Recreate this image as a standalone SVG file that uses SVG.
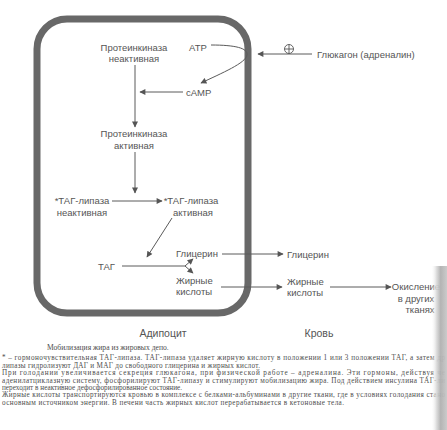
<svg xmlns="http://www.w3.org/2000/svg" width="447" height="430" viewBox="0 0 447 430">
<defs>
<style>
.lbl{font-family:"Liberation Sans",Arial,sans-serif;font-size:9.5px;fill:#555}
.big{font-family:"Liberation Sans",Arial,sans-serif;font-size:10.5px;fill:#555}
.cap{font-family:"Liberation Serif","Times New Roman",serif;font-size:7.2px;fill:#4d4d4d}
.ln{fill:none;stroke:#5a5a5a;stroke-width:1}
.arr{fill:none;stroke:#5a5a5a;stroke-width:1;marker-end:url(#ah)}
</style>
<marker id="ah" viewBox="0 0 10 10" refX="9" refY="5" markerWidth="8" markerHeight="6" markerUnits="userSpaceOnUse" orient="auto">
<path d="M0,0 L10,5 L0,10 z" fill="#555"/>
</marker>
<linearGradient id="sh" x1="0" y1="0" x2="1" y2="0">
<stop offset="0" stop-color="#ffffff" stop-opacity="0"/>
<stop offset="0.35" stop-color="#d8d8d8" stop-opacity="0.9"/>
<stop offset="0.6" stop-color="#b0b0b0" stop-opacity="0.95"/>
<stop offset="1" stop-color="#c8c8c8" stop-opacity="0.95"/>
</linearGradient>
</defs>
<rect width="447" height="430" fill="#ffffff"/>

<g id="adipocyte">
<rect x="37" y="19" width="211" height="294" rx="30" ry="30" fill="none" stroke="#686868" stroke-width="7"/>
</g>

<g id="connectors">
<path class="arr" d="M211,45 C235,45 248,48 247,55 C246,63 222,73 201,83"/>
<line class="arr" x1="312" y1="54" x2="258" y2="54"/>
<circle cx="289" cy="49" r="4.5" fill="none" stroke="#555" stroke-width="0.9"/>
<line x1="284.5" y1="49" x2="293.5" y2="49" stroke="#555" stroke-width="0.9"/>
<line x1="289" y1="44.5" x2="289" y2="53.5" stroke="#555" stroke-width="0.9"/>
<line class="arr" x1="183" y1="92" x2="140" y2="92"/>
<line class="arr" x1="135" y1="65" x2="135" y2="127"/>
<line class="arr" x1="135" y1="152" x2="135" y2="193"/>
<line class="arr" x1="112" y1="201" x2="162" y2="201"/>
<line class="arr" x1="172" y1="218" x2="147" y2="257"/>
<line class="ln" x1="122" y1="266" x2="185" y2="266"/>
<line class="arr" x1="185" y1="266" x2="193" y2="259"/>
<line class="arr" x1="185" y1="266" x2="193" y2="273"/>
<line class="arr" x1="222" y1="254" x2="283" y2="254"/>
<line class="arr" x1="221" y1="287" x2="282" y2="287"/>
<line class="arr" x1="330" y1="287" x2="391" y2="287"/>
</g>

<g id="pk-inactive"><text class="lbl" x="134" y="50.5" text-anchor="middle">Протеинкиназа</text><text class="lbl" x="134" y="61.5" text-anchor="middle">неактивная</text></g>
<g id="atp"><text class="lbl" x="189" y="50.5">ATP</text></g>
<g id="glucagon"><text class="lbl" x="317" y="57.5">Глюкагон (адреналин)</text></g>
<g id="camp"><text class="lbl" x="186" y="95.5">cAMP</text></g>
<g id="pk-active"><text class="lbl" x="134" y="136.5" text-anchor="middle">Протеинкиназа</text><text class="lbl" x="134" y="149" text-anchor="middle">активная</text></g>
<g id="tag-lipase-inactive"><text class="lbl" x="82" y="203.5" text-anchor="middle">*ТАГ-липаза</text><text class="lbl" x="82" y="215.5" text-anchor="middle">неактивная</text></g>
<g id="tag-lipase-active"><text class="lbl" x="191" y="203.5" text-anchor="middle">*ТАГ-липаза</text><text class="lbl" x="193" y="215.5" text-anchor="middle">активная</text></g>
<g id="tag"><text class="lbl" x="98" y="270">ТАГ</text></g>
<g id="glycerol-in"><text class="lbl" x="176" y="256.5">Глицерин</text></g>
<g id="fa-in"><text class="lbl" x="176" y="283.5">Жирные</text><text class="lbl" x="176" y="294.5">кислоты</text></g>
<g id="glycerol-blood"><text class="lbl" x="287" y="257.5">Глицерин</text></g>
<g id="fa-blood"><text class="lbl" x="287" y="284.5">Жирные</text><text class="lbl" x="287" y="296">кислоты</text></g>
<g id="oxidation"><text class="lbl" x="416" y="290" text-anchor="middle">Окисление</text><text class="lbl" x="416" y="301.5" text-anchor="middle">в других</text><text class="lbl" x="420" y="312.5" text-anchor="middle">тканях</text></g>

<g id="labels">
<text class="big" x="163" y="337" text-anchor="middle">Адипоцит</text>
<text class="big" x="319" y="337" text-anchor="middle">Кровь</text>
</g>

<g id="caption">
<text class="cap" x="47" y="349.5" style="font-size:7.6px">Мобилизация жира из жировых депо.</text>
<text class="cap" x="2" y="360" textLength="443" lengthAdjust="spacing">* – гормоночувствительная ТАГ-липаза. ТАГ-липаза удаляет жирную кислоту в положении 1 или 3 положении ТАГ, а затем др</text>
<text class="cap" x="2" y="367.5" textLength="258" lengthAdjust="spacing">липазы гидролизуют ДАГ и МАГ до свободного глицерина и жирных кислот.</text>
<text class="cap" x="2" y="375" textLength="443" lengthAdjust="spacing">При голодании увеличивается секреция глюкагона, при физической работе – адреналина. Эти гормоны, действуя че</text>
<text class="cap" x="2" y="382.5" textLength="443" lengthAdjust="spacing">аденилатциклазную систему, фосфорилируют ТАГ-липазу и стимулируют мобилизацию жира. Под действием инсулина ТАГ-ли</text>
<text class="cap" x="2" y="389.5" textLength="180" lengthAdjust="spacing">переходит в неактивное дефосфорилированное состояние.</text>
<text class="cap" x="2" y="397" textLength="443" lengthAdjust="spacing">Жирные кислоты транспортируются кровью в комплексе с белками-альбуминами в другие ткани, где в условиях голодания стано</text>
<text class="cap" x="2" y="404.5" textLength="342" lengthAdjust="spacing">основным источником энергии. В печени часть жирных кислот перерабатывается в кетоновые тела.</text>
</g>

<g id="page-shadow">
<rect x="431" y="266" width="16" height="164" fill="url(#sh)"/>
</g>
</svg>
